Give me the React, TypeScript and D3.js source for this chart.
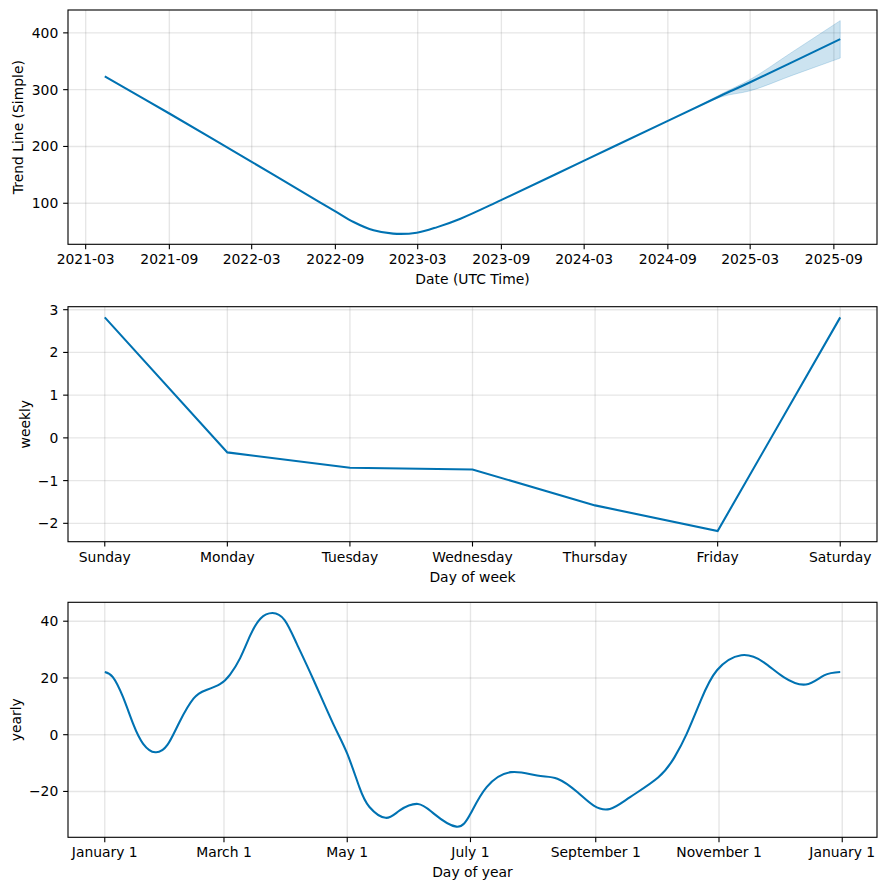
import React from 'react';
import * as d3 from 'd3';

// ---- Trend panel data ----
const trendDates = [
  '2021-04-12', '2021-09-01', '2022-03-01', '2022-07-30', '2022-09-01', '2022-10-11',
  '2022-11-24', '2023-01-06', '2023-02-27', '2023-04-13', '2023-06-03', '2023-08-30',
  '2024-03-01', '2024-09-01', '2024-12-24', '2025-03-01', '2025-09-15',
];
const trendValues = [
  323.5, 258, 173, 101, 85.8, 67,
  52.3, 46.5, 48.2, 58, 72.8, 105,
  175, 245, 288.5, 313, 389,
];
const bandDates = ['2024-11-01', '2024-12-24', '2025-03-01', '2025-06-01', '2025-09-15'];
const bandUpper = [268.5, 291, 318, 366, 421.5];
const bandLower = [267.5, 286.5, 298, 325, 355.6];
const trendTickDates = [
  '2021-03-01', '2021-09-01', '2022-03-01', '2022-09-01', '2023-03-01',
  '2023-09-01', '2024-03-01', '2024-09-01', '2025-03-01', '2025-09-01',
];
const trendYTicks = [100, 200, 300, 400];

// ---- Weekly panel data ----
const weekDays = ['Sunday', 'Monday', 'Tuesday', 'Wednesday', 'Thursday', 'Friday', 'Saturday'];
const weeklyValues = [2.82, -0.34, -0.7, -0.74, -1.58, -2.18, 2.82];
const weeklyYTicks = [-2, -1, 0, 1, 2, 3];

// ---- Yearly panel data ----
const yearlyDays = [
  0, 4, 9, 14, 19, 25, 31, 37, 44, 50, 57, 62, 67, 72, 77, 83, 89, 95, 103, 113, 120,
  126, 131, 139, 146, 155, 163, 174, 181, 189, 201, 214, 224, 234, 242, 250, 260, 274,
  282, 288, 295, 303, 315, 326, 336, 347, 356, 364,
];
const yearlyValues = [
  22.1, 20.3, 13.3, 3.9, -3.2, -6.2, -3.6, 4.5, 12.8, 15.7, 17.8, 21.2, 27, 35, 40.9,
  42.9, 40.4, 32.1, 19.8, 3.9, -6.7, -18.5, -25.5, -29.3, -26.7, -24.4, -27.9, -32.4,
  -27.9, -18.5, -13.2, -14.4, -15.5, -20.3, -25, -26.2, -22.0, -15.0, -7.9, 0.3, 12.1,
  22.7, 28.0, 25.6, 20.3, 17.7, 20.9, 22.1,
];
const yearlyTickDays = [0, 59, 120, 181, 243, 304, 365];
const yearlyTickLabels = ['January 1', 'March 1', 'May 1', 'July 1', 'September 1', 'November 1', 'January 1'];
const yearlyYTicks = [-20, 0, 20, 40];

const W = 886;
const H = 890;
const L = 68;
const R = 877;
const FONT = 'DejaVu Sans, sans-serif';
const FS = 13.9;
const BLUE = '#0072B2';
const TICK = 4.86;

const fmt = (v: number) => (v < 0 ? '\u2212' + Math.abs(v) : String(v));

function padDomain(min: number, max: number): [number, number] {
  const p = (max - min) * 0.05;
  return [min - p, max + p];
}

type Tick = { pos: number; label: string };

function Panel(props: {
  top: number;
  bottom: number;
  xTicks: Tick[];
  yTicks: Tick[];
  xLabel: string;
  yLabel: string;
  yLabelX: number;
  children: React.ReactNode;
}) {
  const { top, bottom, xTicks, yTicks, xLabel, yLabel, yLabelX, children } = props;
  const cy = (top + bottom) / 2;
  const cid = 'clip' + Math.round(top);
  return (
    <g>
      <defs>
        <clipPath id={cid}>
          <rect x={L} y={top} width={R - L} height={bottom - top} />
        </clipPath>
      </defs>
      {xTicks.map((t, i) => (
        <line key={'gx' + i} x1={t.pos} x2={t.pos} y1={top} y2={bottom} stroke="gray" strokeOpacity={0.2} strokeWidth={1.39} />
      ))}
      {yTicks.map((t, i) => (
        <line key={'gy' + i} x1={L} x2={R} y1={t.pos} y2={t.pos} stroke="gray" strokeOpacity={0.2} strokeWidth={1.39} />
      ))}
      <g clipPath={`url(#${cid})`}>{children}</g>
      <rect x={L} y={top} width={R - L} height={bottom - top} fill="none" stroke="black" strokeWidth={1.11} />
      {xTicks.map((t, i) => (
        <g key={'tx' + i}>
          <line x1={t.pos} x2={t.pos} y1={bottom} y2={bottom + TICK} stroke="black" strokeWidth={1.11} />
          <text x={t.pos} y={bottom + 20} textAnchor="middle" fontFamily={FONT} fontSize={FS} fill="black">
            {t.label}
          </text>
        </g>
      ))}
      {yTicks.map((t, i) => (
        <g key={'ty' + i}>
          <line x1={L - TICK} x2={L} y1={t.pos} y2={t.pos} stroke="black" strokeWidth={1.11} />
          <text x={L - 9.7} y={t.pos + 5} textAnchor="end" fontFamily={FONT} fontSize={FS} fill="black">
            {t.label}
          </text>
        </g>
      ))}
      <text x={(L + R) / 2} y={bottom + 40} textAnchor="middle" fontFamily={FONT} fontSize={FS} fill="black">
        {xLabel}
      </text>
      <text
        transform={`translate(${yLabelX},${cy}) rotate(-90)`}
        textAnchor="middle"
        dy="0.35em"
        fontFamily={FONT}
        fontSize={FS}
        fill="black"
      >
        {yLabel}
      </text>
    </g>
  );
}

export default function App() {
  const parse = d3.utcParse('%Y-%m-%d');

  // ---------- Trend ----------
  const tTop = 10;
  const tBot = 244.3;
  const tDates = trendDates.map((d) => parse(d) as Date);
  const bDates = bandDates.map((d) => parse(d) as Date);
  const tExt = d3.extent(tDates) as [Date, Date];
  const tSpan = +tExt[1] - +tExt[0];
  const xT = d3
    .scaleUtc()
    .domain([new Date(+tExt[0] - tSpan * 0.05), new Date(+tExt[1] + tSpan * 0.05)])
    .range([L, R]);
  const tMin = Math.min(d3.min(trendValues)!, d3.min(bandLower)!);
  const tMax = Math.max(d3.max(trendValues)!, d3.max(bandUpper)!);
  const yT = d3.scaleLinear().domain(padDomain(tMin, tMax)).range([tBot, tTop]);
  const trendLine = d3
    .line<number>()
    .x((_, i) => xT(tDates[i]))
    .y((v) => yT(v))
    .curve(d3.curveCatmullRom.alpha(0.5))(trendValues);
  const bandArea = d3
    .area<number>()
    .x((_, i) => xT(bDates[i]))
    .y0((_, i) => yT(bandLower[i]))
    .y1((v) => yT(v))
    .curve(d3.curveMonotoneX)(bandUpper);
  const tFmt = d3.utcFormat('%Y-%m');
  const tXTicks = trendTickDates.map((d) => {
    const dt = parse(d) as Date;
    return { pos: xT(dt), label: tFmt(dt) };
  });
  const tYTicks = trendYTicks.map((v) => ({ pos: yT(v), label: fmt(v) }));

  // ---------- Weekly ----------
  const wTop = 306.7;
  const wBot = 541.7;
  const xW = d3.scaleLinear().domain(padDomain(0, weekDays.length - 1)).range([L, R]);
  const yW = d3
    .scaleLinear()
    .domain(padDomain(d3.min(weeklyValues)!, d3.max(weeklyValues)!))
    .range([wBot, wTop]);
  const weeklyLine = d3
    .line<number>()
    .x((_, i) => xW(i))
    .y((v) => yW(v))(weeklyValues);
  const wXTicks = weekDays.map((d, i) => ({ pos: xW(i), label: d }));
  const wYTicks = weeklyYTicks.map((v) => ({ pos: yW(v), label: fmt(v) }));

  // ---------- Yearly ----------
  const yTop = 602.3;
  const yBot = 837.3;
  const xY = d3.scaleLinear().domain(padDomain(0, 364)).range([L, R]);
  const yY = d3
    .scaleLinear()
    .domain(padDomain(d3.min(yearlyValues)!, d3.max(yearlyValues)!))
    .range([yBot, yTop]);
  const yearlyLine = d3
    .line<number>()
    .x((_, i) => xY(yearlyDays[i]))
    .y((v) => yY(v))
    .curve(d3.curveNatural)(yearlyValues);
  const yXTicks = yearlyTickDays.map((d, i) => ({ pos: xY(d), label: yearlyTickLabels[i] }));
  const yYTicks = yearlyYTicks.map((v) => ({ pos: yY(v), label: fmt(v) }));

  return (
    <svg
      width={W}
      height={H}
      viewBox={`0 0 ${W} ${H}`}
      style={{ position: 'absolute', left: 0, top: 0, background: 'white' }}
    >
      <rect x={0} y={0} width={W} height={H} fill="white" />
      <Panel top={tTop} bottom={tBot} xTicks={tXTicks} yTicks={tYTicks} xLabel="Date (UTC Time)" yLabel="Trend Line (Simple)" yLabelX={18.5}>
        <path d={bandArea || ''} fill={BLUE} fillOpacity={0.2} stroke={BLUE} strokeOpacity={0.2} strokeWidth={1} />
        <path d={trendLine || ''} fill="none" stroke={BLUE} strokeWidth={2.08} />
      </Panel>
      <Panel top={wTop} bottom={wBot} xTicks={wXTicks} yTicks={wYTicks} xLabel="Day of week" yLabel="weekly" yLabelX={25}>
        <path d={weeklyLine || ''} fill="none" stroke={BLUE} strokeWidth={2.08} />
      </Panel>
      <Panel top={yTop} bottom={yBot} xTicks={yXTicks} yTicks={yYTicks} xLabel="Day of year" yLabel="yearly" yLabelX={16.5}>
        <path d={yearlyLine || ''} fill="none" stroke={BLUE} strokeWidth={2.08} />
      </Panel>
    </svg>
  );
}
